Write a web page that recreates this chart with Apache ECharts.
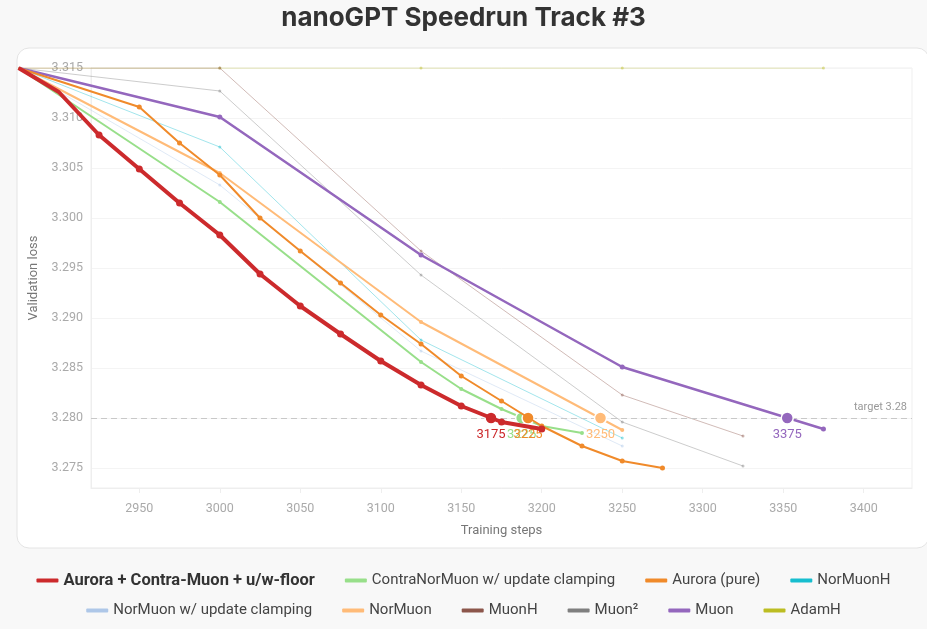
<!DOCTYPE html>
<html>
<head>
<meta charset="utf-8" />
<script src="https://cdn.jsdelivr.net/npm/echarts/dist/echarts.min.js"></script>
<title>nanoGPT Speedrun Track #3</title>
<style>
  html, body { margin: 0; padding: 0; background: #f8f8f8; }
  #chart { width: 927px; height: 629px; }
</style>
</head>
<body>
<div id="chart"></div>
<script>
// series data: eval step + validation loss
var floorSteps = [2875, 2900, 2925, 2950, 2975, 3000, 3025, 3050, 3075, 3100, 3125, 3150, 3175, 3200];
var floorLoss  = [3.3150, 3.3126, 3.3083, 3.3049, 3.3015, 3.2983, 3.2944, 3.2912, 3.2884, 3.2857, 3.2833, 3.2812, 3.2796, 3.2789];

var contraSteps = [2875, 3000, 3125, 3150, 3175, 3200, 3225];
var contraLoss  = [3.3150, 3.3016, 3.2856, 3.2829, 3.2809, 3.2792, 3.2785];

var auroraSteps = [2875, 2950, 2975, 3000, 3025, 3050, 3075, 3100, 3125, 3150, 3175, 3200, 3225, 3250, 3275];
var auroraLoss  = [3.3150, 3.3111, 3.3075, 3.3043, 3.3000, 3.2967, 3.2935, 3.2903, 3.2874, 3.2842, 3.2817, 3.2792, 3.2772, 3.2757, 3.2750];

var norMuonHSteps = [2875, 3000, 3125, 3250];
var norMuonHLoss  = [3.3150, 3.3071, 3.2878, 3.2780];

var norClampSteps = [2875, 3000, 3125, 3250];
var norClampLoss  = [3.3150, 3.3033, 3.2867, 3.2772];

var norMuonSteps = [2875, 3000, 3125, 3250];
var norMuonLoss  = [3.3150, 3.3045, 3.2896, 3.2788];

var muonHSteps = [2875, 3000, 3125, 3250, 3325];
var muonHLoss  = [3.3150, 3.3150, 3.2967, 3.2823, 3.2782];

var muon2Steps = [2875, 3000, 3125, 3250, 3325];
var muon2Loss  = [3.3150, 3.3127, 3.2943, 3.2796, 3.2752];

var muonSteps = [2875, 3000, 3125, 3250, 3375];
var muonLoss  = [3.3150, 3.3101, 3.2963, 3.2851, 3.2789];

var adamHSteps = [2875, 3000, 3125, 3250, 3375];
var adamHLoss  = [3.3150, 3.3150, 3.3150, 3.3150, 3.3150];

// where each highlighted run crosses the target, and the step shown under it
var target = 3.28;
var crossNames  = ['Aurora + Contra-Muon + u/w-floor', 'ContraNorMuon w/ update clamping', 'Aurora (pure)', 'NorMuon', 'Muon'];
var crossSteps  = [3168.5, 3187.5, 3191.5, 3236.5, 3352.5];
var crossLabels = [3175, 3225, 3225, 3250, 3375];

var legendRow1 = ['Aurora + Contra-Muon + u/w-floor', 'ContraNorMuon w/ update clamping', 'Aurora (pure)', 'NorMuonH'];
var legendRow2 = ['NorMuon w/ update clamping', 'NorMuon', 'MuonH', 'Muon\u00b2', 'Muon', 'AdamH'];

// visible axis window, and the earlier start the lines run out to
var xMin = 2920, xMax = 3430, xStart = 2875;
var yMin = 3.273, yMax = 3.315;

var colors = {
  'Aurora + Contra-Muon + u/w-floor': '#cc2a2c',
  'ContraNorMuon w/ update clamping': '#98df8a',
  'Aurora (pure)': '#f08a2a',
  'NorMuonH': '#17becf',
  'NorMuon w/ update clamping': '#aec7e8',
  'NorMuon': '#ffbb78',
  'MuonH': '#8c564b',
  'Muon\u00b2': '#7f7f7f',
  'Muon': '#9467bd',
  'AdamH': '#bcbd22'
};

var FONT = 'Roboto, "Noto Sans", sans-serif';

// plot box in px; the line layer gets a wider box with the same px-per-step
var gridLeft = 91, gridRight = 15, gridTop = 68, gridBottom = 141, W = 927;
var pxPerStep = (W - gridLeft - gridRight) / (xMax - xMin);
var lineLeft = gridLeft - (xMin - xStart) * pxPerStep;

function pairs(steps, loss) {
  var out = [];
  for (var i = 0; i < steps.length; i++) {
    // points left of the visible window keep the line but no dot
    if (steps[i] < xMin) out.push({ value: [steps[i], loss[i]], symbol: 'none' });
    else out.push([steps[i], loss[i]]);
  }
  return out;
}

function faded(name, steps, loss) {
  return {
    name: name, type: 'line', xAxisIndex: 1, yAxisIndex: 1, z: 2,
    data: pairs(steps, loss),
    symbol: 'circle', symbolSize: 3,
    lineStyle: { width: 1, color: colors[name], opacity: 0.4 },
    itemStyle: { color: colors[name], opacity: 0.45 },
    emphasis: { disabled: true }
  };
}

function strong(name, steps, loss, width, dot, z) {
  var s = {
    name: name, type: 'line', xAxisIndex: 1, yAxisIndex: 1, z: z,
    data: pairs(steps, loss),
    symbol: 'circle', symbolSize: dot,
    lineStyle: { width: width, color: colors[name] },
    itemStyle: { color: colors[name] },
    emphasis: { disabled: true }
  };
  var k = crossNames.indexOf(name);
  if (k >= 0) {
    s.markPoint = {
      symbol: 'circle', symbolSize: 12,
      itemStyle: { color: colors[name], borderColor: '#fff', borderWidth: 1.5 },
      label: { show: true, position: 'bottom', distance: 3, color: colors[name],
               fontSize: 13, fontFamily: FONT, formatter: '{c}' },
      data: [{ coord: [crossSteps[k], target], value: crossLabels[k] }]
    };
  }
  return s;
}

var series = [
  faded('AdamH', adamHSteps, adamHLoss),
  faded('MuonH', muonHSteps, muonHLoss),
  faded('Muon\u00b2', muon2Steps, muon2Loss),
  faded('NorMuon w/ update clamping', norClampSteps, norClampLoss),
  faded('NorMuonH', norMuonHSteps, norMuonHLoss),
  strong('NorMuon', norMuonSteps, norMuonLoss, 2, 4, 3),
  strong('Muon', muonSteps, muonLoss, 2.5, 5, 3),
  strong('ContraNorMuon w/ update clamping', contraSteps, contraLoss, 2, 4, 4),
  strong('Aurora (pure)', auroraSteps, auroraLoss, 2, 5, 5),
  strong('Aurora + Contra-Muon + u/w-floor', floorSteps, floorLoss, 4, 7, 6)
];

// dashed target line across the visible window only
series[0].markLine = {
  silent: true, symbol: 'none',
  lineStyle: { color: '#c8c8c8', type: [6, 4], width: 1 },
  label: { show: true, position: 'insideEndTop', formatter: 'target 3.28',
           color: '#999', fontSize: 11, fontFamily: FONT },
  data: [[{ coord: [xMin, target] }, { coord: [xMax, target] }]]
};

function legendItems(list, boldFirst) {
  return list.map(function (n, i) {
    var item = { name: n, itemStyle: { color: colors[n], opacity: 1 } };
    if (boldFirst && i === 0) item.textStyle = { fontWeight: 'bold', color: '#333', fontSize: 16.5 };
    return item;
  });
}

var legendBase = {
  icon: 'roundRect', itemWidth: 22, itemHeight: 4, itemGap: 30,
  textStyle: { fontSize: 15, color: '#444', fontFamily: FONT },
  selectedMode: false
};

var myChart = echarts.init(document.getElementById('chart'));
var option = {
  backgroundColor: '#f8f8f8',
  animation: false,
  title: {
    text: 'nanoGPT Speedrun Track #3', left: 'center', top: 0,
    textStyle: { fontSize: 26, fontWeight: 'bold', color: '#333', fontFamily: 'Inter, Roboto, sans-serif' }
  },
  graphic: [{
    type: 'rect', z: -10, silent: true,
    shape: { x: 17, y: 48, width: 912, height: 500, r: 12 },
    style: { fill: '#fff', stroke: '#e4e4e4', lineWidth: 1 }
  }],
  legend: [
    Object.assign({}, legendBase, { top: 567, left: 'center', data: legendItems(legendRow1, true) }),
    Object.assign({}, legendBase, { top: 598, left: 'center', data: legendItems(legendRow2, false) })
  ],
  grid: [
    { left: gridLeft, right: gridRight, top: gridTop, bottom: gridBottom,
      show: true, borderColor: '#efefef', borderWidth: 1, backgroundColor: 'transparent' },
    { left: lineLeft, right: gridRight, top: gridTop, bottom: gridBottom }
  ],
  xAxis: [{
    type: 'value', gridIndex: 0, min: xMin, max: xMax, splitNumber: 10,
    name: 'Training steps', nameLocation: 'middle', nameGap: 36,
    nameTextStyle: { fontSize: 13, color: '#777', fontFamily: FONT },
    axisLine: { show: true, lineStyle: { color: '#eee' } },
    axisTick: { show: true, length: 5, lineStyle: { color: '#eee' } },
    splitLine: { show: false },
    axisLabel: { color: '#aaa', fontSize: 12.5, fontFamily: FONT, margin: 14,
                 showMinLabel: false, showMaxLabel: false,
                 formatter: function (v) { return String(v); } }
  }, {
    type: 'value', gridIndex: 1, min: xStart, max: xMax, show: false
  }],
  yAxis: [{
    type: 'value', gridIndex: 0, min: yMin, max: yMax, splitNumber: 8,
    name: 'Validation loss', nameLocation: 'middle', nameGap: 44,
    nameTextStyle: { fontSize: 13, color: '#777', fontFamily: FONT },
    axisLine: { show: true, lineStyle: { color: '#eee' } },
    axisTick: { show: false },
    splitLine: { show: true, lineStyle: { color: '#f4f4f4' } },
    axisLabel: { color: '#aaa', fontSize: 12.5, fontFamily: FONT, margin: 8,
                 showMinLabel: false,
                 formatter: function (v) { return v.toFixed(3); } }
  }, {
    type: 'value', gridIndex: 1, min: yMin, max: yMax, show: false
  }],
  series: series
};
myChart.setOption(option);
</script>
</body>
</html>
